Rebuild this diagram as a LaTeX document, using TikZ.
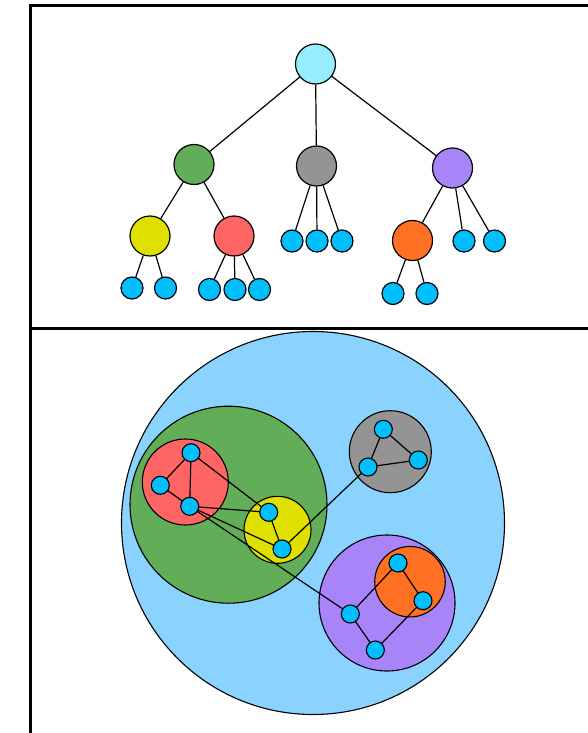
\documentclass[tikz,border=0pt]{standalone}
\begin{document}
\begin{tikzpicture}[x=1pt,y=-1pt,
  big/.style={circle,draw=black,line width=1.2pt,minimum size=40pt,inner sep=0pt},
  leaf/.style={circle,draw=black,line width=1.2pt,fill=leafblue,minimum size=22pt,inner sep=0pt},
  dot/.style={circle,draw=black,line width=1.1pt,fill=leafblue,minimum size=18pt,inner sep=0pt},
  blob/.style={circle,draw=black,line width=1.1pt,inner sep=0pt},
  edge/.style={line width=1.2pt},
  frame/.style={line width=2.2pt}]
\definecolor{rootc}{RGB}{151,237,255}
\definecolor{greenc}{RGB}{98,173,87}
\definecolor{grayc}{RGB}{148,148,148}
\definecolor{purplec}{RGB}{168,132,248}
\definecolor{yellowc}{RGB}{224,224,0}
\definecolor{redc}{RGB}{255,101,101}
\definecolor{orangec}{RGB}{255,112,34}
\definecolor{leafblue}{RGB}{0,191,255}
\definecolor{skyc}{RGB}{139,211,255}
\useasboundingbox (0,0) rectangle (588,733);
% frame
\coordinate (fa) at (30.5,733);
\coordinate (fb) at (30.5,5.5);
\coordinate (fc) at (588,5.5);
\coordinate (fd) at (30.5,328.5);
\coordinate (fe) at (588,328.5);
\draw[frame] (fa) -- (fb) -- (fc);
\draw[frame] (fd) -- (fe);
% tree
\node[big,fill=rootc] (root) at (315.5,64) {};
\node[big,fill=greenc] (tg) at (194,164.5) {};
\node[big,fill=grayc] (tk) at (316.5,166) {};
\node[big,fill=purplec] (tp) at (452.5,168) {};
\node[big,fill=yellowc] (ty) at (150,236) {};
\node[big,fill=redc] (tr) at (234,236) {};
\node[big,fill=orangec] (to) at (412.5,240.5) {};
\node[leaf] (k1) at (292,241) {};
\node[leaf] (k2) at (317,241) {};
\node[leaf] (k3) at (342,241) {};
\node[leaf] (p1) at (464,241) {};
\node[leaf] (p2) at (494.5,241) {};
\node[leaf] (y1) at (132,288) {};
\node[leaf] (y2) at (165.5,288) {};
\node[leaf] (r1) at (209.5,289.5) {};
\node[leaf] (r2) at (235,289.5) {};
\node[leaf] (r3) at (259.5,289.5) {};
\node[leaf] (o1) at (393,293.5) {};
\node[leaf] (o2) at (427,293.5) {};
\foreach \a/\b in {root/tg,root/tk,root/tp,tg/ty,tg/tr,tk/k1,tk/k2,tk/k3,tp/to,tp/p1,tp/p2,ty/y1,ty/y2,tr/r1,tr/r2,tr/r3,to/o1,to/o2}
  \draw[edge] (\a) -- (\b);
% nested circles
\node[blob,fill=skyc,minimum size=383pt] (sky) at (313,523) {};
\node[blob,fill=greenc,minimum size=197pt] (bg) at (228.5,504.7) {};
\node[blob,fill=redc,minimum size=86pt] (br) at (185.3,482) {};
\node[blob,fill=yellowc,minimum size=67pt] (by) at (277.5,529.8) {};
\node[blob,fill=grayc,minimum size=82pt] (bk) at (390.3,451.7) {};
\node[blob,fill=purplec,minimum size=136pt] (bp) at (387,603) {};
\node[blob,fill=orangec,minimum size=70.5pt] (bo) at (410,581.7) {};
% graph nodes
\coordinate (cR1) at (191,452.7);
\coordinate (cR2) at (160.3,485.3);
\coordinate (cR3) at (189.7,506.3);
\coordinate (cY1) at (268.7,512.3);
\coordinate (cY2) at (282,549);
\coordinate (cG1) at (383.3,429.3);
\coordinate (cG2) at (368,467);
\coordinate (cG3) at (418.3,460);
\coordinate (cO1) at (398,563);
\coordinate (cO2) at (423,600.7);
\coordinate (cP1) at (350.3,614);
\coordinate (cP2) at (375.3,650);
\foreach \a/\b in {R1/R2,R1/R3,R2/R3,R1/Y1,R3/Y1,R3/Y2,R3/P1,Y1/Y2,Y2/G2,G1/G2,G1/G3,G2/G3,O1/O2,O1/P1,O2/P2,P1/P2}
  \draw[edge] (c\a) -- (c\b);
\foreach \n in {R1,R2,R3,Y1,Y2,G1,G2,G3,O1,O2,P1,P2}
  \node[dot] (\n) at (c\n) {};
\end{tikzpicture}
\end{document}
